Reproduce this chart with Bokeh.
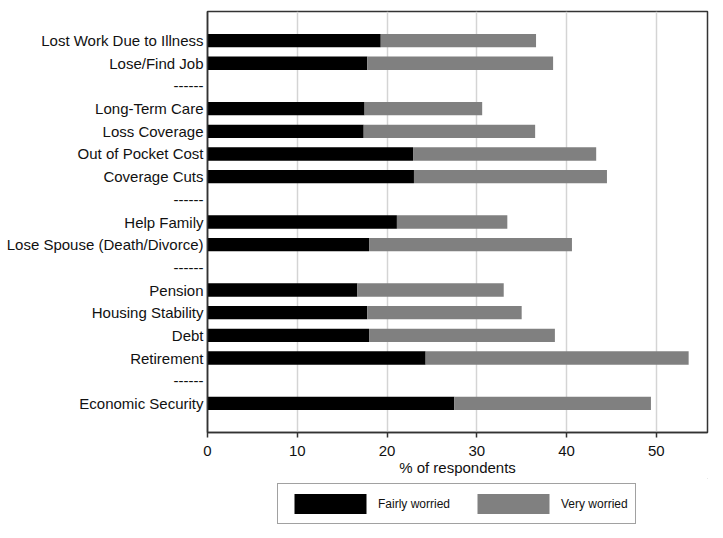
from bokeh.plotting import figure
from bokeh.layouts import column
from bokeh.models import Range1d, FixedTicker, Legend, LegendItem, ColumnDataSource
from bokeh.embed import file_html
from bokeh.resources import INLINE

categories = ["Lost Work Due to Illness", "Lose/Find Job", "------",
              "Long-Term Care", "Loss Coverage", "Out of Pocket Cost", "Coverage Cuts", "------",
              "Help Family", "Lose Spouse (Death/Divorce)", "------",
              "Pension", "Housing Stability", "Debt", "Retirement", "------",
              "Economic Security"]
fairly_worried = [19.3, 17.8, None, 17.5, 17.4, 22.9, 23.0, None, 21.1, 18.0, None,
                  16.7, 17.8, 18.0, 24.3, None, 27.5]
very_worried = [17.3, 20.7, None, 13.1, 19.1, 20.4, 21.5, None, 12.3, 22.6, None,
                16.3, 17.2, 20.7, 29.3, None, 21.9]
series_names = ["Fairly worried", "Very worried"]
series_colors = ["#000000", "#808080"]
x_ticks = [0, 10, 20, 30, 40, 50]

ys, fw, tot = [], [], []
for i, (f, v) in enumerate(zip(fairly_worried, very_worried)):
    if f is None:
        continue
    ys.append(i)
    fw.append(f)
    tot.append(f + v)
src = ColumnDataSource(dict(y=ys, fairly=fw, total=tot))

n = len(categories)
FONT = "Liberation Sans"
p = figure(width=715, height=478, output_backend="svg", toolbar_location=None,
           x_range=Range1d(0, 55.7), y_range=Range1d(n - 1 + 1.285, -1.285),
           min_border_left=207, min_border_right=8, min_border_top=11, min_border_bottom=46)

p.hbar(y="y", left=0, right="fairly", height=0.59, source=src,
       fill_color=series_colors[0], line_color=None)
p.hbar(y="y", left="fairly", right="total", height=0.59, source=src,
       fill_color=series_colors[1], line_color=None)

p.outline_line_color = "#333333"
p.outline_line_width = 1.5
p.ygrid.grid_line_color = None
p.xgrid.grid_line_color = "#d4d4d4"
p.xgrid.grid_line_width = 1.5

p.yaxis.ticker = FixedTicker(ticks=list(range(n)))
p.yaxis.major_label_overrides = {i: c for i, c in enumerate(categories)}
p.yaxis.major_tick_line_color = None
p.yaxis.major_tick_in = 0
p.yaxis.major_tick_out = 0
p.yaxis.minor_tick_line_color = None
p.yaxis.minor_tick_in = 0
p.yaxis.minor_tick_out = 0
p.yaxis.major_label_standoff = 4
p.yaxis.axis_line_color = "#333333"
p.yaxis.axis_line_width = 1.5
p.yaxis.major_label_text_font = FONT
p.yaxis.major_label_text_font_size = "15px"
p.yaxis.major_label_text_color = "#111111"

p.xaxis.ticker = FixedTicker(ticks=x_ticks)
p.xaxis.minor_tick_line_color = None
p.xaxis.major_tick_in = 0
p.xaxis.major_tick_out = 5
p.xaxis.major_tick_line_color = "#333333"
p.xaxis.major_tick_line_width = 1.5
p.xaxis.axis_line_color = "#333333"
p.xaxis.axis_line_width = 1.5
p.xaxis.major_label_standoff = 8
p.xaxis.major_label_text_font = FONT
p.xaxis.major_label_text_font_size = "15px"
p.xaxis.major_label_text_color = "#111111"
p.xaxis.axis_label = "% of respondents"
p.xaxis.axis_label_text_font = FONT
p.xaxis.axis_label_text_font_size = "15px"
p.xaxis.axis_label_text_font_style = "normal"
p.xaxis.axis_label_text_color = "#111111"
p.xaxis.axis_label_standoff = 0

# legend panel below the chart (its frame aligns with the chart's frame)
lg = figure(width=715, height=52, output_backend="svg", toolbar_location=None,
            x_range=Range1d(0, 1), y_range=Range1d(0, 1),
            min_border_left=207, min_border_right=8, min_border_top=0, min_border_bottom=0)
lg.axis.visible = False
lg.grid.grid_line_color = None
lg.outline_line_color = None
items = []
for name, col in zip(series_names, series_colors):
    # one placeholder bar well outside the visible ranges, so that the legend has a swatch
    r = lg.hbar(y=[50], left=[50], right=[51], height=0.5, fill_color=col, line_color=None)
    items.append(LegendItem(label=name, renderers=[r]))
legend = Legend(items=items, orientation="horizontal", location=(70, 6),
                glyph_width=90, glyph_height=25, label_standoff=3, spacing=18,
                padding=7, margin=0, border_line_color="#444444", border_line_width=1.2,
                label_text_font=FONT, label_text_font_size="12px",
                label_text_color="#111111")
lg.add_layout(legend)

open("out.html", "w").write(file_html(column(p, lg, spacing=0), INLINE))
